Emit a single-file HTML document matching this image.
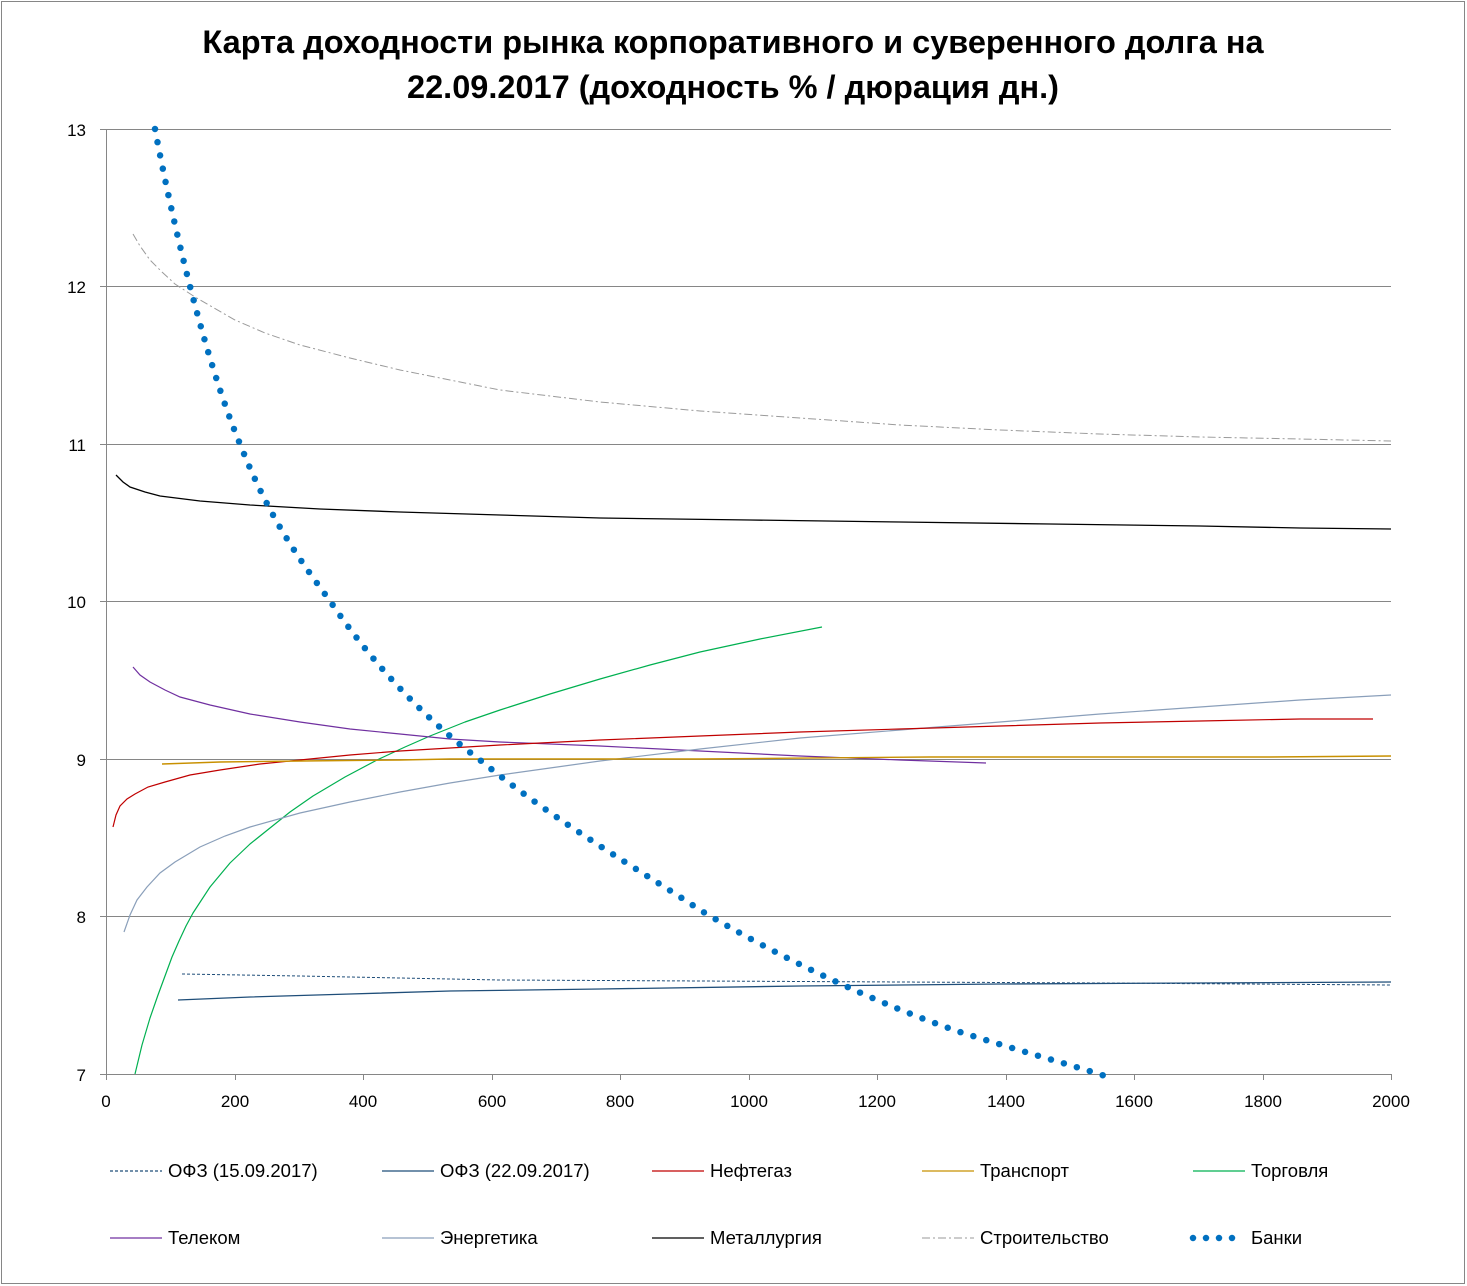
<!DOCTYPE html>
<html><head><meta charset="utf-8"><style>
html,body{margin:0;padding:0;background:#fff}
svg{display:block}
text{font-family:"Liberation Sans","DejaVu Sans",sans-serif}
</style></head><body>
<svg width="1467" height="1286" viewBox="0 0 1467 1286" xmlns="http://www.w3.org/2000/svg">
<rect x="1.5" y="1.5" width="1463" height="1282" fill="#fff" stroke="#868686" stroke-width="1"/>
<text x="733" y="53" text-anchor="middle" font-size="32.5" font-weight="bold" fill="#000">Карта доходности рынка корпоративного и суверенного долга на</text>
<text x="733" y="98" text-anchor="middle" font-size="32.5" font-weight="bold" fill="#000">22.09.2017 (доходность % / дюрация дн.)</text>
<g stroke="#868686" stroke-width="1">
<line x1="100" y1="129.5" x2="1391" y2="129.5"/>
<line x1="100" y1="286.5" x2="1391" y2="286.5"/>
<line x1="100" y1="444.5" x2="1391" y2="444.5"/>
<line x1="100" y1="601.5" x2="1391" y2="601.5"/>
<line x1="100" y1="759.5" x2="1391" y2="759.5"/>
<line x1="100" y1="916.5" x2="1391" y2="916.5"/>
<line x1="100" y1="1074.5" x2="1391" y2="1074.5"/>
<line x1="106.5" y1="129" x2="106.5" y2="1080"/>
<line x1="235.5" y1="1074" x2="235.5" y2="1080"/><line x1="363.5" y1="1074" x2="363.5" y2="1080"/>
<line x1="492.5" y1="1074" x2="492.5" y2="1080"/><line x1="620.5" y1="1074" x2="620.5" y2="1080"/>
<line x1="749.5" y1="1074" x2="749.5" y2="1080"/><line x1="877.5" y1="1074" x2="877.5" y2="1080"/>
<line x1="1006.5" y1="1074" x2="1006.5" y2="1080"/><line x1="1134.5" y1="1074" x2="1134.5" y2="1080"/>
<line x1="1263.5" y1="1074" x2="1263.5" y2="1080"/><line x1="1391.5" y1="1074" x2="1391.5" y2="1080"/>
</g>
<g font-size="17" fill="#000" text-anchor="end">
<text x="86" y="136">13</text><text x="86" y="293">12</text><text x="86" y="451">11</text>
<text x="86" y="608">10</text><text x="86" y="766">9</text><text x="86" y="923">8</text><text x="86" y="1081">7</text>
</g>
<g font-size="17" fill="#000" text-anchor="middle">
<text x="106" y="1107">0</text><text x="235" y="1107">200</text><text x="363" y="1107">400</text>
<text x="492" y="1107">600</text><text x="620" y="1107">800</text><text x="749" y="1107">1000</text>
<text x="877" y="1107">1200</text><text x="1006" y="1107">1400</text><text x="1134" y="1107">1600</text>
<text x="1263" y="1107">1800</text><text x="1391" y="1107">2000</text>
</g>
<g fill="none">
<polyline stroke="#9a9a9a" stroke-width="1" stroke-dasharray="8,3,2,3" points="133,234 140,246 150,260 162,272 175,284 195,297 235,320 265,333 300,345 350,358 400,370 450,380 500,390 600,402 700,411 800,418 900,425 1000,430 1100,434 1200,437 1300,439 1391,441"/>
<polyline stroke="#000" stroke-width="1.3" points="116,475 123,482 130,487 145,492 160,496 200,501 250,505 320,509 400,512 500,515 600,518 750,520 900,522 1050,524 1200,526 1300,528 1391,529"/>
<polyline stroke="#00b050" stroke-width="1.2" stroke-linejoin="round" points="135,1074 142,1045 150,1018 158,995 165,976 172,957 179,941 186,926 193,913 210,887 230,863 250,844 270,828 290,812 313,796 345,777 377,760 405,747 430,736 465,722 500,710 550,694 600,679 650,665 700,652 760,639 822,627"/>
<polyline stroke="#7030a0" stroke-width="1.2" points="133,667 140,675 150,682 165,690 180,697 210,705 250,714 300,722 350,729 400,734 450,739 500,742 600,746 700,751 800,756 900,760 986,763"/>
<polyline stroke="#8a9fba" stroke-width="1.2" points="124,932 130,915 137,900 147,887 160,873 175,862 200,847 225,836 250,827 300,813 350,802 400,792 450,783 500,775 550,768 600,761 700,749 800,738 900,730 1000,722 1100,714 1200,707 1300,700 1391,695"/>
<polyline stroke="#c00000" stroke-width="1.2" points="113,827 116,815 120,806 127,799 135,794 148,787 165,782 190,775 220,770 260,764 300,760 350,755 400,751 500,745 600,740 700,736 800,732 900,729 1000,726 1100,723 1200,721 1300,719 1373,719"/>
<polyline stroke="#c89000" stroke-width="1.4" points="162,764 220,762 300,761 400,760 450,759 700,759 930,757 1270,757 1391,756"/>
<polyline stroke="#1f4e79" stroke-width="1" stroke-dasharray="3,2" points="182,974 300,976 400,978 500,980 700,981 900,982 1100,983 1391,985"/>
<polyline stroke="#1f4e79" stroke-width="1.3" points="178,1000 250,997 350,994 450,991 600,989 800,986 1000,984 1200,983 1391,982"/>
<path stroke="#0070c0" stroke-width="6.5" stroke-linecap="round" stroke-dasharray="0,13.5" d="M155,129 C172,220 205,360 240,444 C270,520 300,560 330,601 C370,660 420,715 480,760 C560,825 640,870 700,910 C780,958 880,1005 960,1032 C1030,1054 1075,1066 1105,1076"/>
</g>
<g font-size="18.5" fill="#000">
<line x1="110" y1="1171" x2="162" y2="1171" stroke="#1f4e79" stroke-width="1.3" stroke-dasharray="3,2"/>
<text x="168" y="1177">ОФЗ (15.09.2017)</text>
<line x1="382" y1="1171" x2="434" y2="1171" stroke="#1f4e79" stroke-width="1.3"/>
<text x="440" y="1177">ОФЗ (22.09.2017)</text>
<line x1="652" y1="1171" x2="704" y2="1171" stroke="#c00000" stroke-width="1.3"/>
<text x="710" y="1177">Нефтегаз</text>
<line x1="922" y1="1171" x2="974" y2="1171" stroke="#c89000" stroke-width="1.3"/>
<text x="980" y="1177">Транспорт</text>
<line x1="1193" y1="1171" x2="1245" y2="1171" stroke="#00b050" stroke-width="1.3"/>
<text x="1251" y="1177">Торговля</text>
<line x1="110" y1="1238" x2="162" y2="1238" stroke="#7030a0" stroke-width="1.3"/>
<text x="168" y="1244">Телеком</text>
<line x1="382" y1="1238" x2="434" y2="1238" stroke="#8a9fba" stroke-width="1.3"/>
<text x="440" y="1244">Энергетика</text>
<line x1="652" y1="1238" x2="704" y2="1238" stroke="#000" stroke-width="1.3"/>
<text x="710" y="1244">Металлургия</text>
<line x1="922" y1="1238" x2="974" y2="1238" stroke="#9a9a9a" stroke-width="1" stroke-dasharray="8,3,2,3"/>
<text x="980" y="1244">Строительство</text>
<line x1="1193" y1="1238" x2="1240" y2="1238" stroke="#0070c0" stroke-width="6.5" stroke-linecap="round" stroke-dasharray="0,13"/>
<text x="1251" y="1244">Банки</text>
</g>
</svg>
</body></html>
